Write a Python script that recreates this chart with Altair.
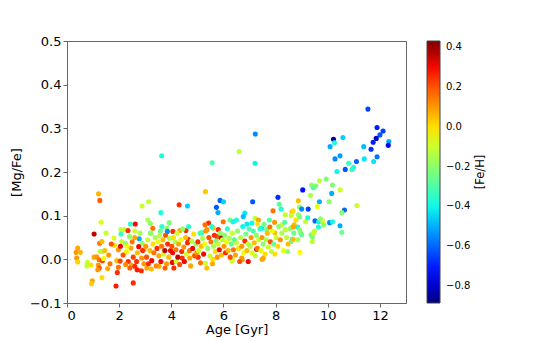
import altair as alt
import pandas as pd

# (age [Gyr], [Mg/Fe], [Fe/H]), grouped by age range
young = [
    (1.21, 0.150, 0.06), (1.26, 0.135, 0.18), (1.31, 0.085, -0.08), (1.04, 0.058, 0.35),
    (1.25, 0.037, 0.15), (1.34, 0.041, 0.05), (0.41, 0.026, 0.08), (0.35, 0.016, 0.10),
    (0.51, 0.016, 0.06), (0.37, 0.003, 0.10), (0.41, -0.006, 0.02), (0.78, -0.007, -0.10),
    (0.76, -0.015, -0.12), (0.92, -0.013, 0.00), (1.04, 0.005, 0.08), (1.14, 0.006, 0.10),
    (1.23, -0.001, 0.15), (1.20, -0.013, 0.10), (1.24, -0.020, 0.20), (1.18, -0.024, 0.10),
    (1.36, -0.003, 0.22), (1.34, 0.018, -0.18), (1.27, 0.018, -0.12), (1.40, 0.002, -0.03),
    (1.56, -0.021, 0.08), (1.34, -0.042, 0.00), (0.97, -0.049, 0.08), (0.94, -0.056, 0.02),
    (1.88, -0.061, 0.28), (1.93, -0.030, 0.25), (1.97, -0.018, 0.15), (1.91, -0.003, 0.05),
    (2.04, -0.004, 0.22), (1.82, 0.032, 0.00), (1.80, 0.049, -0.08), (1.97, 0.022, 0.10),
    (2.10, 0.041, -0.10), (2.07, 0.068, -0.12), (2.20, 0.068, -0.10), (2.43, 0.081, -0.35),
    (2.62, 0.081, 0.30), (2.34, 0.066, 0.25), (2.07, 0.058, -0.33), (2.40, 0.052, -0.20),
    (2.77, 0.047, -0.50), (2.60, 0.050, 0.08), (2.88, 0.037, -0.20), (2.75, 0.029, 0.30),
    (2.45, 0.026, 0.08), (2.54, 0.005, 0.22), (2.67, -0.005, 0.25), (2.86, 0.003, 0.10),
    (2.35, -0.005, 0.25), (2.47, -0.013, 0.08), (2.41, -0.020, 0.18), (2.60, -0.016, 0.25),
    (2.54, -0.054, 0.25), (2.28, 0.017, -0.02), (2.24, 0.037, -0.20), (2.95, 0.022, 0.05),
    (2.15, 0.010, 0.20), (2.30, 0.030, -0.05), (2.50, 0.040, 0.15), (2.70, 0.015, 0.05),
    (2.80, 0.060, -0.15), (2.90, 0.020, 0.25), (2.95, -0.010, 0.10), (2.25, -0.012, 0.12),
    (2.60, 0.065, -0.10), (2.05, 0.030, 0.30), (2.69, -0.024, 0.28), (2.85, -0.026, 0.25),
    (1.50, 0.060, -0.10), (1.60, 0.010, 0.10), (1.70, 0.035, 0.20), (1.45, 0.020, 0.05),
    (1.65, -0.010, 0.15), (2.88, 0.122, -0.10),
]

middle = [
    (3.06, -0.020, 0.08), (3.23, -0.022, 0.05), (3.53, -0.016, 0.08), (3.76, -0.020, 0.18),
    (4.04, -0.007, 0.30), (4.19, -0.005, -0.10), (3.13, 0.132, -0.12), (4.30, 0.125, 0.25),
    (4.62, 0.122, -0.45), (5.31, 0.155, 0.03), (3.60, 0.107, -0.38), (3.92, 0.084, -0.22),
    (3.64, 0.075, -0.35), (3.83, 0.071, -0.20), (3.29, 0.071, 0.15), (3.85, 0.064, -0.55),
    (4.06, 0.064, 0.25), (4.33, 0.066, 0.08), (4.56, 0.066, 0.25), (3.55, 0.054, -0.12),
    (3.20, 0.060, -0.20), (4.65, 0.046, 0.25), (5.43, 0.083, 0.25), (5.29, 0.079, 0.15),
    (5.16, 0.061, -0.38), (5.37, 0.068, 0.10), (5.60, 0.072, 0.05), (4.42, 0.003, 0.25),
    (5.31, -0.009, -0.10), (5.59, 0.000, 0.00), (4.71, 0.003, 0.08), (5.03, 0.005, 0.25),
    (4.88, 0.010, 0.02), (3.63, 0.237, -0.38), (5.57, 0.221, -0.30),
    (5.87, 0.135, -0.60), (5.73, 0.119, -0.62), (5.79, 0.107, -0.50), (5.80, 0.068, 0.25),
    (5.87, 0.056, 0.10), (5.91, 0.050, 0.38), (5.75, 0.052, 0.20),
    (3.02, 0.030, 0.10), (3.05, 0.005, 0.20), (3.10, 0.045, -0.10), (3.12, -0.010, 0.25),
    (3.18, 0.020, 0.05), (3.22, 0.060, -0.20), (3.25, -0.003, 0.30), (3.30, 0.035, 0.00),
    (3.33, 0.015, 0.15), (3.38, 0.050, -0.15), (3.42, -0.015, 0.12), (3.45, 0.025, 0.25),
    (3.50, 0.040, -0.05), (3.52, 0.008, 0.08), (3.58, 0.065, -0.25), (3.60, -0.005, 0.30),
    (3.63, 0.030, 0.15), (3.68, 0.045, 0.05), (3.70, 0.012, -0.10), (3.75, 0.020, 0.35),
    (3.78, 0.055, 0.20), (3.82, -0.010, 0.10), (3.86, 0.035, 0.25), (3.90, 0.005, 0.05),
    (3.93, 0.048, -0.15), (3.97, 0.020, 0.30), (3.10, 0.090, -0.15), (3.20, 0.082, -0.20),
    (4.02, 0.030, 0.20), (4.05, 0.015, 0.30), (4.08, 0.050, 0.00), (4.10, -0.020, 0.25),
    (4.14, 0.040, -0.15), (4.18, 0.022, 0.15), (4.22, 0.060, -0.10), (4.25, 0.005, 0.35),
    (4.28, 0.035, 0.08), (4.32, -0.012, 0.20), (4.36, 0.045, -0.05), (4.40, 0.018, 0.25),
    (4.44, 0.070, -0.20), (4.48, 0.028, 0.10), (4.50, -0.005, 0.30), (4.55, 0.050, 0.05),
    (4.58, 0.012, -0.10), (4.62, 0.038, 0.25), (4.66, 0.075, -0.35), (4.70, 0.020, 0.15),
    (4.74, -0.015, 0.08), (4.78, 0.042, -0.12), (4.82, 0.025, 0.30), (4.86, 0.058, 0.00),
    (4.90, 0.008, 0.20), (4.95, 0.035, -0.20), (4.98, 0.015, 0.10),
    (5.02, 0.040, 0.25), (5.05, 0.020, -0.10), (5.10, 0.060, -0.30), (5.12, -0.008, 0.15),
    (5.15, 0.030, 0.05), (5.20, 0.048, -0.15), (5.24, 0.012, 0.30), (5.28, 0.035, -0.05),
    (5.32, 0.065, 0.10), (5.36, -0.020, 0.05), (5.40, 0.025, -0.20), (5.44, 0.050, 0.20),
    (5.48, 0.008, -0.10), (5.52, 0.040, 0.15), (5.55, 0.075, -0.38), (5.58, -0.010, 0.08),
    (5.62, 0.030, -0.15), (5.65, 0.055, 0.25), (5.68, 0.018, 0.00), (5.72, 0.042, -0.25),
    (5.76, 0.005, 0.10), (5.80, 0.035, -0.10), (5.84, 0.022, 0.30), (5.88, 0.060, -0.20),
    (5.92, 0.010, 0.05), (5.96, 0.045, -0.12),
]

late = [
    (6.60, 0.247, -0.12), (7.21, 0.220, -0.40), (7.22, 0.287, -0.55), (6.00, 0.132, -0.45),
    (7.12, 0.132, -0.62), (8.09, 0.142, -0.68), (8.14, 0.126, -0.28), (7.90, 0.111, 0.15),
    (8.37, 0.102, -0.12), (8.63, 0.109, 0.05), (6.82, 0.106, -0.42), (6.76, 0.098, -0.48),
    (6.50, 0.090, -0.38), (6.25, 0.090, -0.25), (6.37, 0.086, -0.40), (5.99, 0.086, 0.15),
    (7.21, 0.094, -0.12), (7.34, 0.090, 0.08), (7.09, 0.083, -0.40), (6.90, 0.081, -0.42),
    (7.31, 0.081, 0.00), (7.46, 0.071, -0.42), (7.66, 0.068, -0.25), (7.78, 0.074, 0.15),
    (7.97, 0.061, 0.05), (8.23, 0.079, -0.10), (8.37, 0.068, -0.12), (8.63, 0.074, 0.00),
    (8.65, 0.046, -0.40), (8.60, 0.041, -0.25), (7.27, 0.023, 0.35), (6.95, -0.005, 0.30),
    (6.70, 0.003, 0.10), (7.53, 0.003, 0.08), (7.97, 0.012, 0.00), (8.46, 0.018, -0.20),
    (6.34, -0.001, -0.03), (8.21, 0.115, -0.38), (6.33, -0.003, -0.10), (6.72, -0.001, 0.10),
    (7.48, 0.000, 0.08),
    (6.02, 0.030, 0.10), (6.05, 0.055, -0.20), (6.08, 0.015, 0.25), (6.12, 0.040, -0.05),
    (6.15, 0.070, -0.35), (6.18, 0.020, 0.05), (6.22, 0.048, -0.15), (6.26, 0.005, 0.20),
    (6.30, 0.035, -0.25), (6.34, 0.060, -0.10), (6.38, 0.022, 0.15), (6.42, 0.045, -0.30),
    (6.46, 0.010, 0.08), (6.50, 0.038, -0.12), (6.54, 0.065, -0.20), (6.58, 0.025, 0.00),
    (6.62, -0.005, 0.20), (6.66, 0.050, -0.15), (6.70, 0.030, 0.10), (6.74, 0.075, -0.40),
    (6.78, 0.015, -0.05), (6.82, 0.042, 0.25), (6.86, 0.058, -0.25), (6.90, 0.020, 0.05),
    (6.95, 0.035, -0.10), (6.98, 0.070, -0.30),
    (7.02, 0.030, -0.15), (7.06, 0.050, 0.10), (7.10, 0.015, -0.08), (7.14, 0.065, -0.30),
    (7.18, 0.038, 0.05), (7.22, 0.008, -0.12), (7.26, 0.055, -0.20), (7.30, 0.025, 0.15),
    (7.35, 0.045, -0.10), (7.40, 0.070, -0.35), (7.44, 0.020, -0.05), (7.48, 0.050, 0.10),
    (7.52, 0.035, -0.20), (7.56, 0.080, -0.25), (7.60, 0.012, 0.00), (7.64, 0.045, -0.15),
    (7.68, 0.060, 0.05), (7.72, 0.028, -0.10), (7.76, 0.090, -0.30), (7.80, 0.040, 0.20),
    (7.84, 0.018, -0.12), (7.88, 0.065, -0.05), (7.92, 0.035, -0.25), (7.96, 0.085, 0.10),
    (8.02, 0.050, -0.10), (8.08, 0.030, 0.00), (8.12, 0.075, -0.20), (8.18, 0.045, 0.10),
    (8.24, 0.060, -0.15), (8.30, 0.020, -0.05), (8.35, 0.085, -0.30), (8.42, 0.050, -0.12),
    (8.48, 0.035, 0.05), (8.55, 0.070, -0.20), (8.60, 0.100, -0.10), (8.70, 0.060, -0.25),
    (8.78, 0.090, 0.00), (8.85, 0.045, -0.15), (8.92, 0.120, -0.20),
]

old = [
    (11.54, 0.344, -0.65), (11.89, 0.302, -0.70), (12.12, 0.294, -0.65), (12.00, 0.285, -0.62),
    (11.86, 0.277, -0.80), (11.74, 0.268, -0.70), (11.66, 0.252, -0.68), (12.34, 0.270, -0.50),
    (12.32, 0.261, -0.75), (10.22, 0.275, -0.85), (10.26, 0.267, -0.38), (10.58, 0.279, -0.45),
    (10.09, 0.258, -0.50), (11.38, 0.258, -0.48), (10.28, 0.230, -0.55), (10.47, 0.237, -0.52),
    (11.40, 0.230, -0.42), (11.89, 0.235, -0.58), (11.76, 0.224, -0.42), (11.10, 0.224, -0.60),
    (10.80, 0.220, -0.33), (10.99, 0.211, -0.38), (10.93, 0.206, -0.36), (10.67, 0.206, -0.62),
    (10.35, 0.201, -0.40), (9.94, 0.184, -0.22), (9.68, 0.180, -0.12), (10.18, 0.170, -0.22),
    (9.38, 0.170, -0.20), (9.45, 0.164, -0.30), (9.54, 0.168, -0.22), (10.48, 0.159, -0.10),
    (10.15, 0.151, -0.50), (9.04, 0.159, -0.72), (9.34, 0.146, -0.15), (8.87, 0.134, 0.05),
    (9.68, 0.132, -0.50), (9.25, 0.115, -0.65), (9.00, 0.115, -0.55), (11.12, 0.123, -0.10),
    (10.64, 0.113, -0.60), (9.60, 0.121, -0.05), (10.54, 0.107, -0.22), (9.51, 0.088, -0.60),
    (9.65, 0.086, -0.40), (9.80, 0.088, -0.05), (10.07, 0.084, -0.55), (9.72, 0.093, -0.20),
    (10.47, 0.077, -0.50), (10.54, 0.062, -0.25), (10.05, 0.132, -0.20), (8.67, 0.111, 0.00),
    (8.88, 0.102, -0.20), (8.92, 0.097, -0.22), (8.84, 0.074, -0.40), (8.71, 0.079, 0.05),
    (8.68, 0.074, 0.08), (8.92, 0.068, -0.20), (8.96, 0.061, -0.22), (9.00, 0.056, -0.25),
    (9.36, 0.056, -0.22), (9.41, 0.051, -0.22), (9.49, 0.065, -0.12), (9.45, 0.061, -0.10),
    (8.67, 0.046, 0.05), (9.41, 0.041, -0.12), (8.93, 0.016, -0.03), (9.85, 0.079, -0.20),
    (9.15, 0.086, -0.10), (9.23, 0.095, -0.38), (9.64, 0.074, -0.38), (10.18, 0.086, -0.40),
]

# jet colour map stops over the colour bar range
fe_lo, fe_hi = -0.885, 0.43
jet_stops = [0.0, 0.11, 0.34, 0.35, 0.375, 0.5, 0.64, 0.65, 0.66, 0.89, 0.91, 1.0]
jet_colors = ["#000080", "#0000ff", "#00dbff", "#00e5ff", "#14ffe2", "#7bff7b",
              "#efff08", "#f7ff00", "#ffec00", "#ff1300", "#e80000", "#800000"]
fe_domain = [fe_lo + s * (fe_hi - fe_lo) for s in jet_stops]

x_ticks = [0, 2, 4, 6, 8, 10, 12]
y_ticks = [-0.1, 0.0, 0.1, 0.2, 0.3, 0.4, 0.5]
cbar_ticks = [-0.8, -0.6, -0.4, -0.2, 0.0, 0.2, 0.4]

rows = young + middle + late + old
df = pd.DataFrame(rows, columns=["age", "mgfe", "feh"])

FONT = "DejaVu Sans"

points = alt.Chart(df).mark_circle(size=26, opacity=1).encode(
    x=alt.X("age:Q",
            scale=alt.Scale(domain=[0, 13], nice=False, zero=False),
            axis=alt.Axis(values=x_ticks, format="d", title="Age [Gyr]")),
    y=alt.Y("mgfe:Q",
            scale=alt.Scale(domain=[-0.1, 0.5], nice=False, zero=False),
            axis=alt.Axis(values=y_ticks, format=".1f", title="[Mg/Fe]")),
    color=alt.Color("feh:Q",
                    scale=alt.Scale(domain=fe_domain, range=jet_colors, interpolate="rgb", clamp=True),
                    legend=alt.Legend(orient="none", legendX=360, legendY=0,
                                      direction="vertical", title=None,
                                      gradientLength=262, gradientThickness=13,
                                      gradientStrokeColor="#444", gradientStrokeWidth=1,
                                      values=cbar_ticks, format=".1f",
                                      labelFont=FONT, labelFontSize=10, labelColor="#000",
                                      labelOffset=6)),
)

cbar_title = alt.Chart(pd.DataFrame({"t": ["[Fe/H]"]})).mark_text(
    angle=270, font=FONT, fontSize=11.5, color="#000", align="center", baseline="middle"
).encode(text="t:N", x=alt.value(414), y=alt.value(131))

chart = alt.layer(points, cbar_title).properties(
    width=339, height=262,
    autosize=alt.AutoSizeParams(type="none"),
    padding={"left": 59, "top": 33, "right": 131, "bottom": 37},
).configure_view(
    stroke="#666", strokeWidth=1
).configure_axis(
    grid=False, labelFont=FONT, titleFont=FONT, labelFontSize=13, titleFontSize=13,
    labelColor="#000", titleColor="#000", titleFontWeight="normal",
    domainColor="#666", tickColor="#666", tickSize=4, labelPadding=2,
).configure_axisX(titlePadding=1).configure_axisY(titlePadding=6)

chart.save("out.html", embed_options={"renderer": "svg", "actions": False})
